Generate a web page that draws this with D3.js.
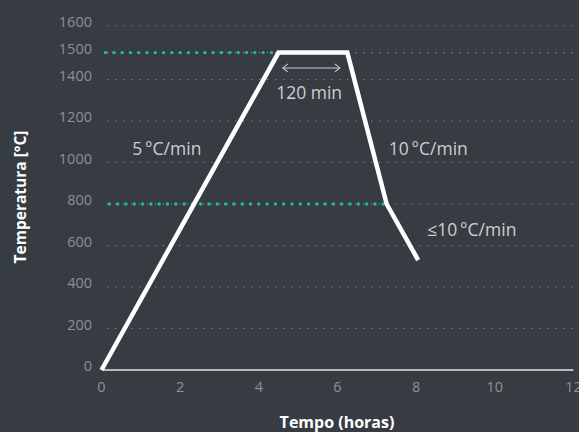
<!DOCTYPE html>
<html>
<head>
<meta charset="utf-8">
<script src="https://cdn.jsdelivr.net/npm/d3@7"></script>
<style>
  html, body { margin: 0; padding: 0; background: #373b42; }
  svg { display: block; }
  text { font-family: "Open Sans", "Noto Sans", sans-serif; }
</style>
</head>
<body>
<svg id="chart" width="579" height="432"></svg>
<script>
// ---- data ----
const timeHours = [0, 4.5, 6.25, 7.25, 8.05];
const temperatures = [0, 1500, 1500, 800, 530];
const xTicks = [0, 2, 4, 6, 8, 10, 12];
const yTicks = [0, 200, 400, 600, 800, 1000, 1200, 1400, 1500, 1600];
const refLevels = [1500, 800];
const refEnds = [4.5, 7.25];
const refStarts = [0.1, 0.2];
const annotations = [
  { text: "5\u2009°C/min", t: 0.78, v: 1036 },
  { text: "10\u2009°C/min", t: 7.3, v: 1036 },
  { text: "\u226410\u2009°C/min", t: 8.28, v: 645 },
  { text: "120 min", t: 4.44, v: 1305 }
];
const holdStart = 4.61, holdEnd = 6.06, holdLevel = 1443;

const svg = d3.select("#chart");
const x = d3.scaleLinear().domain([0, 12]).range([101.5, 573.5]);
const y = d3.scaleLinear().domain([0, 1400, 1600]).range([370, 79.5, 25.7]);

// gridlines
svg.append("g").selectAll("line").data(yTicks.filter(d => d > 0)).join("line")
  .attr("x1", 107).attr("x2", 579)
  .attr("y1", d => y(d)).attr("y2", d => y(d))
  .attr("stroke", "#8c9097").attr("stroke-width", 1.1)
  .attr("stroke-dasharray", "1.2,6.8");

// y tick labels
svg.append("g").selectAll("text").data(yTicks).join("text")
  .attr("x", 92).attr("y", d => y(d) - 4)
  .attr("dy", "0.35em")
  .attr("text-anchor", "end")
  .attr("fill", "#8c9097").attr("font-size", 14.5)
  .text(d => d);

// x axis line
svg.append("line")
  .attr("x1", x(0) + 1).attr("x2", x(12))
  .attr("y1", y(0)).attr("y2", y(0))
  .attr("stroke", "#e6e6e6").attr("stroke-width", 1.6);

// x tick labels
svg.append("g").selectAll("text").data(xTicks).join("text")
  .attr("x", d => x(d)).attr("y", 392)
  .attr("text-anchor", "middle")
  .attr("fill", "#8c9097").attr("font-size", 14.5)
  .text(d => d);

// green reference lines
svg.append("g").selectAll("line").data(refLevels).join("line")
  .attr("x1", (d, i) => x(refStarts[i])).attr("x2", (d, i) => x(refEnds[i]))
  .attr("y1", d => y(d)).attr("y2", d => y(d))
  .attr("stroke", "#1fbf8f").attr("stroke-width", 3.4)
  .attr("stroke-linecap", "round")
  .attr("stroke-dasharray", "0,8.3");

// temperature profile
const line = d3.line().x((d, i) => x(timeHours[i])).y(d => y(d));
svg.append("path")
  .datum(temperatures)
  .attr("d", line)
  .attr("fill", "none")
  .attr("stroke", "#ffffff")
  .attr("stroke-width", 4.5)
  .attr("stroke-linejoin", "miter");

// hold arrow
const ay = y(holdLevel);
const ax1 = x(holdStart), ax2 = x(holdEnd);
const ag = svg.append("g").attr("stroke", "#c8cacd").attr("stroke-width", 1.1).attr("fill", "none");
ag.append("line").attr("x1", ax1).attr("x2", ax2).attr("y1", ay).attr("y2", ay);
ag.append("path").attr("d", `M${ax1 + 5},${ay - 4} L${ax1},${ay} L${ax1 + 5},${ay + 4}`);
ag.append("path").attr("d", `M${ax2 - 5},${ay - 4} L${ax2},${ay} L${ax2 - 5},${ay + 4}`);

// annotations
svg.append("g").selectAll("text").data(annotations).join("text")
  .attr("x", d => x(d.t)).attr("y", d => y(d.v))
  .attr("fill", "#cdcfd2").attr("font-size", 17.5)
  .text(d => d.text);

// axis titles
svg.append("text")
  .attr("transform", "translate(26,197) rotate(-90)")
  .attr("text-anchor", "middle")
  .attr("fill", "#ffffff").attr("font-size", 15.5).attr("font-weight", 700)
  .text("Temperatura [°C]");
svg.append("text")
  .attr("x", 337).attr("y", 428)
  .attr("text-anchor", "middle")
  .attr("fill", "#ffffff").attr("font-size", 16).attr("font-weight", 700)
  .text("Tempo (horas)");
</script>
</body>
</html>
